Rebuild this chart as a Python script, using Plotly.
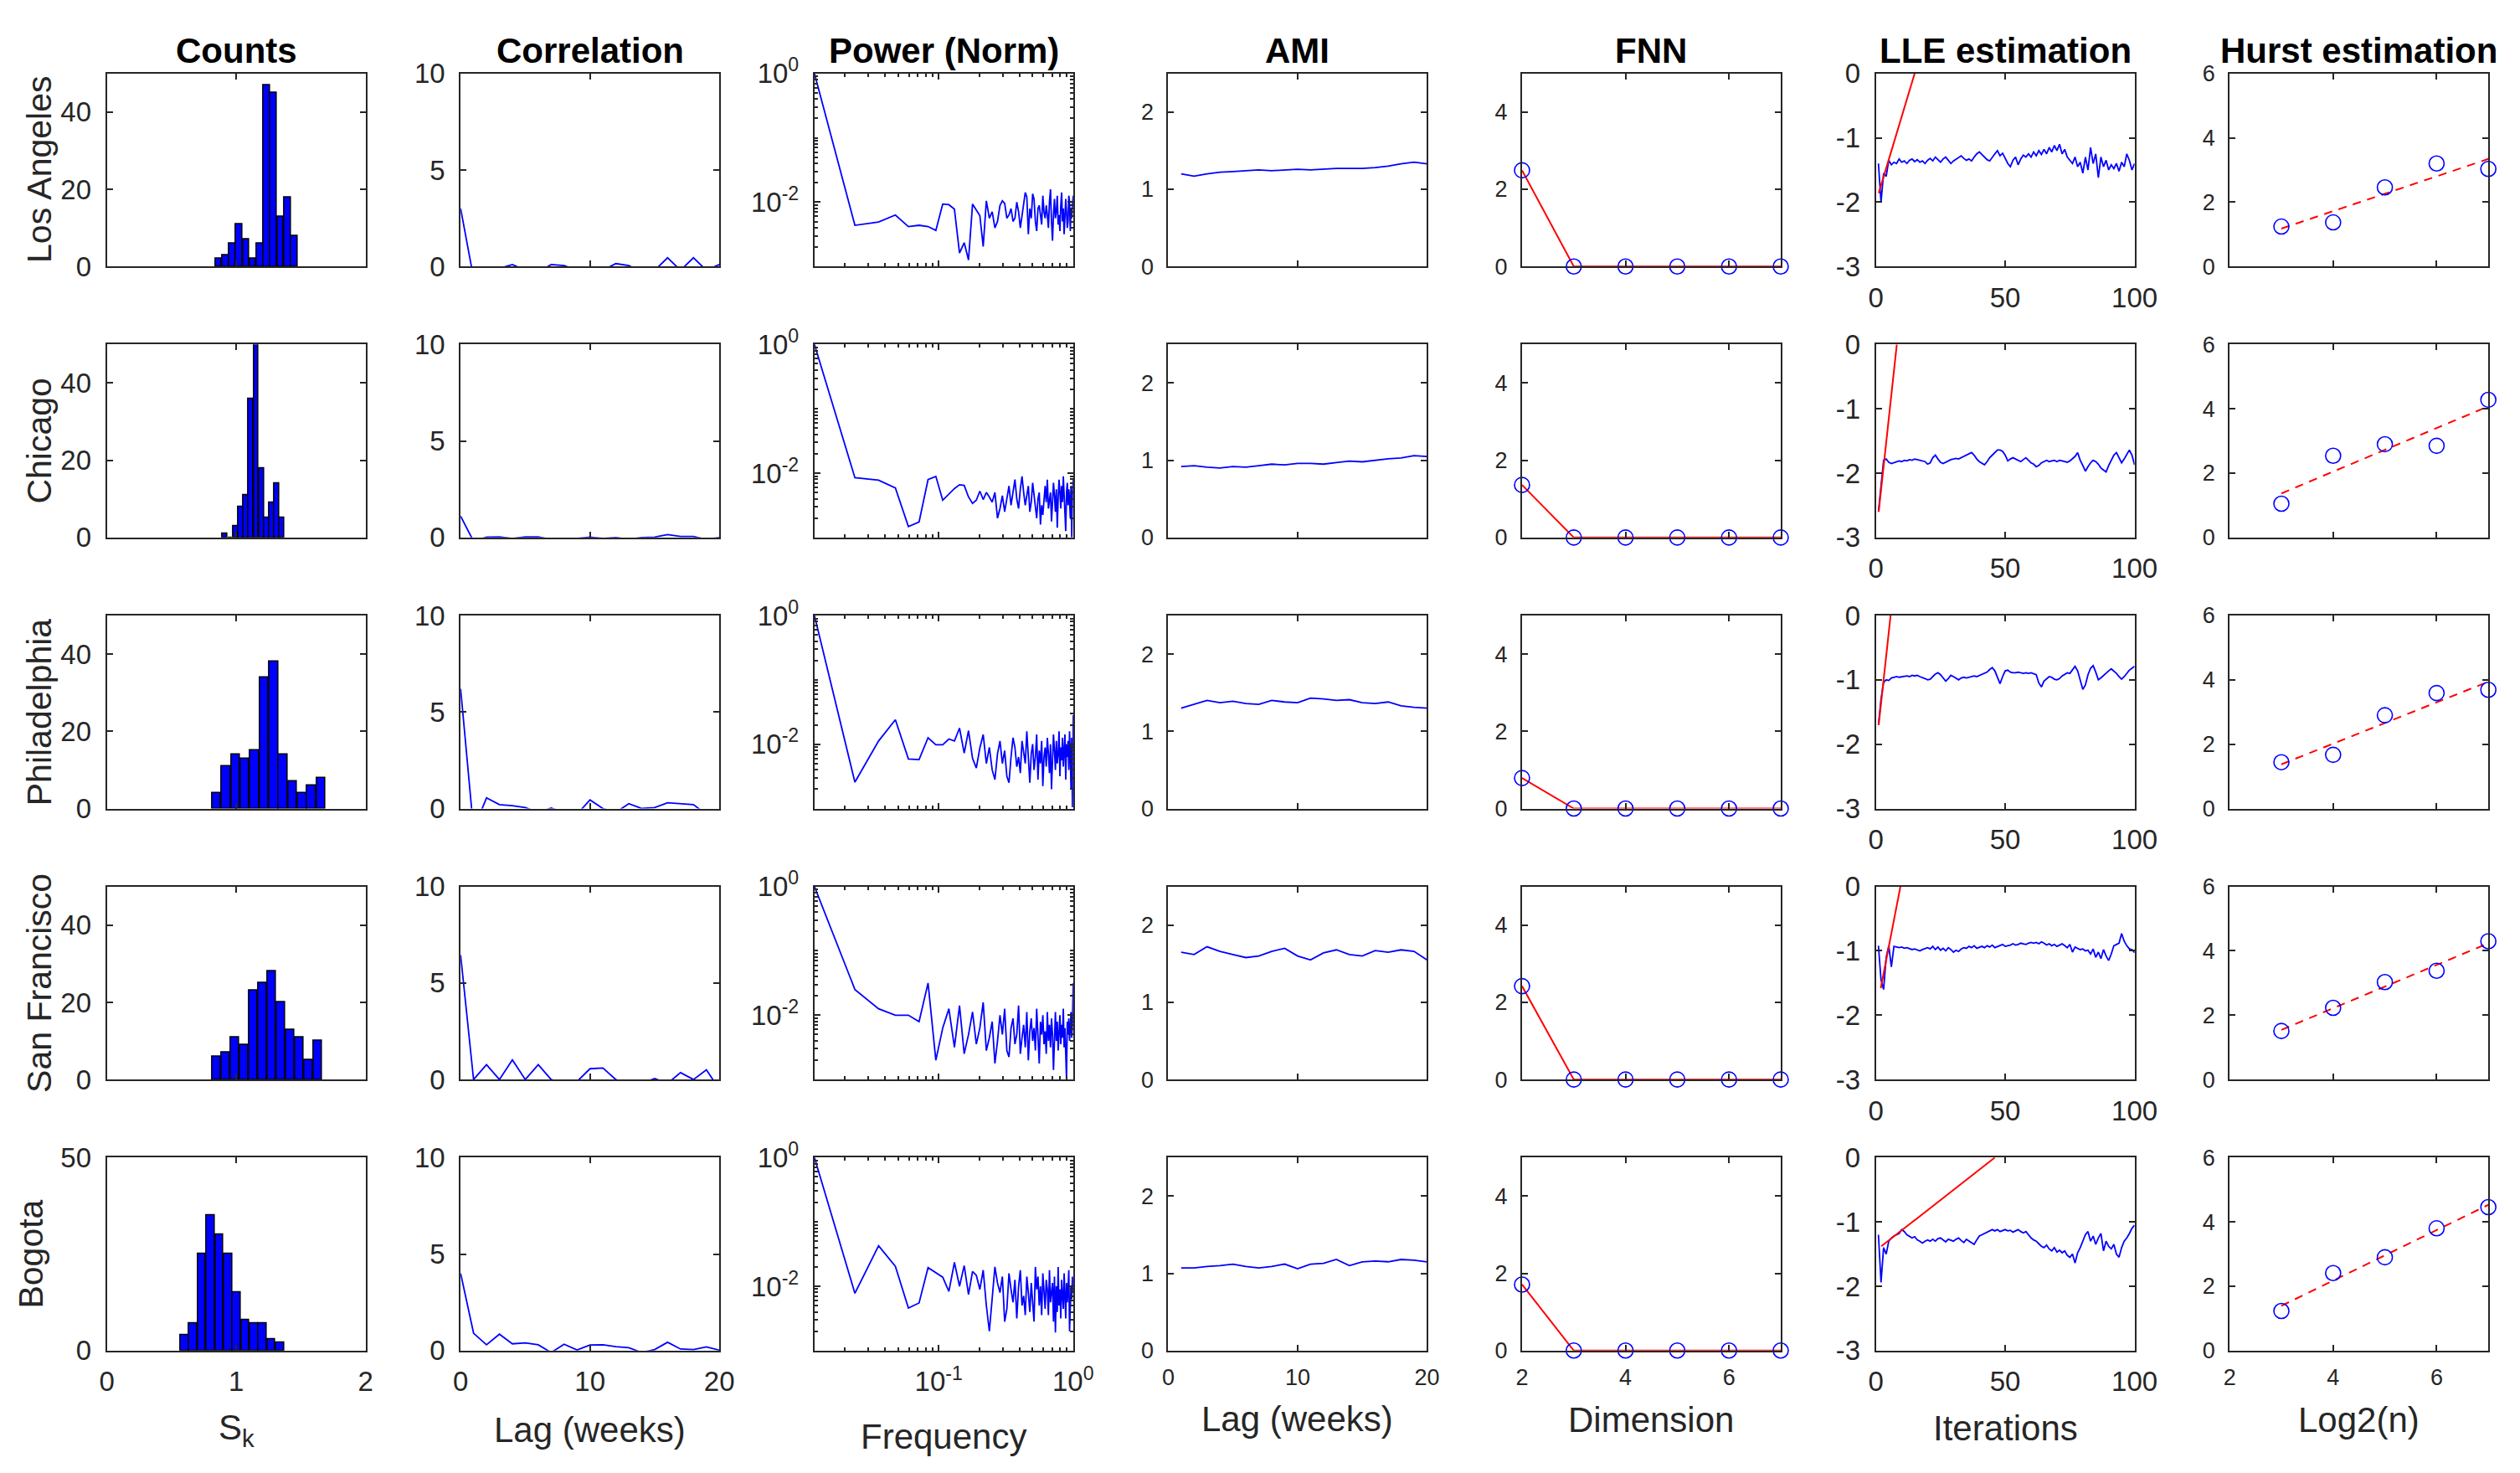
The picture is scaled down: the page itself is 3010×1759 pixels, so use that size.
import numpy as np
import plotly.graph_objects as go

W, H = 3010, 1759

cities = ["Los Angeles", "Chicago", "Philadelphia", "San Francisco", "Bogota"]
col_titles = ["Counts", "Correlation", "Power (Norm)", "AMI", "FNN", "LLE estimation", "Hurst estimation"]
x_labels = ["S<sub>k</sub>", "Lag (weeks)", "Frequency", "Lag (weeks)", "Dimension", "Iterations", "Log2(n)"]
lle_tick_vals = [-3, -2, -1, 0]
lle_tick_text = ["-3", "-2", "-1", "0"]

# ---------------- Counts (histogram of S_k) ----------------
hist_start = [0.837, 0.895, 0.812, 0.812, 0.568]
hist_width = [0.0533, 0.040, 0.0735, 0.0714, 0.067]
hist_LA = [2, 3, 6, 11, 7, 2, 6, 47, 45, 13, 18, 8]
hist_CH = [1, 0, 3, 8, 11, 36, 51, 18, 5, 9, 14, 5]
hist_PH = [4, 11, 14, 13, 15, 34, 38, 14, 7, 4, 6, 8]
hist_SF = [6, 7, 11, 9, 23, 25, 28, 20, 13, 11, 5, 10]
hist_BO = [4, 7, 25, 35, 30, 25, 15, 8, 7, 7, 3, 2]
hist_counts = [hist_LA, hist_CH, hist_PH, hist_SF, hist_BO]

# ---------------- Correlation (lags 0..20) ----------------
corr_lags = list(range(21))
corr_LA = [3.0, -0.6, -0.3, -0.1, 0.1, -0.2, -0.3, 0.1, 0.05, -0.2, -0.3, -0.2, 0.15, 0.05, -0.3, -0.2, 0.45, -0.2, 0.45, -0.2, 0.1]
corr_CH = [1.1, -0.2, 0.02, 0.03, -0.05, 0.03, 0.03, -0.1, -0.3, -0.05, 0.02, -0.05, 0.0, -0.1, 0.0, 0.02, 0.15, 0.05, 0.05, -0.1, 0.0]
corr_PH = [6.2, -1.1, 0.55, 0.2, 0.15, 0.05, -0.2, 0.02, -0.2, -0.3, 0.45, 0.0, -0.2, 0.25, 0.0, 0.05, 0.3, 0.25, 0.2, -0.3, -0.3]
corr_SF = [6.45, 0.0, 0.77, 0.0, 1.02, 0.0, 0.77, 0.0, -0.2, -0.1, 0.56, 0.6, 0.0, -0.3, -0.2, 0.05, -0.2, 0.36, 0.0, 0.5, -0.5]
corr_BO = [4.0, 0.9, 0.3, 0.85, 0.35, 0.4, 0.3, -0.1, 0.33, 0.03, 0.29, 0.3, 0.2, 0.15, -0.1, 0.05, 0.43, 0.08, 0.05, 0.19, 0.02]
corr_vals = [corr_LA, corr_CH, corr_PH, corr_SF, corr_BO]

# ---------------- Power spectrum (k/84, log10 of normalized power) ----------------
freq = [k / 84 for k in range(1, 85)]
plog_LA = [0, -2.36, -2.31, -2.20, -2.38, -2.36, -2.38, -2.44, -2.03, -2.04,
           -2.11, -2.79, -2.63, -2.90, -2.03, -2.13, -2.21, -2.69, -1.98, -2.25,
           -2.15, -2.40, -2.30, -2.05, -1.98, -2.02, -2.25, -2.20, -2.10, -2.30,
           -2.25, -2.00, -2.15, -2.40, -2.20, -2.05, -1.85, -1.92, -2.50, -2.10,
           -2.25, -1.87, -1.95, -2.30, -2.45, -2.10, -2.05, -2.20, -2.35, -1.90,
           -2.15, -2.25, -2.05, -2.20, -2.40, -2.00, -1.80, -2.30, -2.60, -2.20,
           -1.95, -2.25, -2.15, -1.90, -2.35, -2.20, -2.45, -2.05, -1.85, -2.30,
           -2.10, -2.50, -2.20, -1.95, -2.15, -2.40, -2.30, -1.90, -2.00, -2.45,
           -2.10, -2.25, -2.05, -1.90]
plog_CH = [0, -2.07, -2.11, -2.23, -2.83, -2.76, -2.10, -2.05, -2.42, -2.32,
           -2.24, -2.18, -2.19, -2.37, -2.47, -2.42, -2.28, -2.41, -2.30, -2.37,
           -2.45, -2.30, -2.70, -2.55, -2.35, -2.60, -2.40, -2.20, -2.50, -2.30,
           -2.10, -2.40, -2.55, -2.25, -2.05, -2.30, -2.50, -2.35, -2.20, -2.60,
           -2.45, -2.15, -2.35, -2.55, -2.70, -2.40, -2.30, -2.80, -2.50, -2.65,
           -2.35, -2.20, -2.45, -2.10, -2.55, -2.40, -2.30, -2.75, -2.50, -2.15,
           -2.35, -2.60, -2.25, -2.85, -2.40, -2.10, -2.30, -2.55, -2.20, -2.45,
           -2.05, -2.35, -2.60, -2.90, -2.30, -2.15, -2.50, -2.25, -2.40, -2.70,
           -2.20, -3.00, -2.35, -2.10]
plog_PH = [0, -2.59, -1.95, -1.62, -2.23, -2.24, -1.90, -2.01, -2.01, -1.92,
           -1.95, -1.75, -2.14, -1.79, -2.22, -2.37, -2.06, -1.85, -2.30, -2.05,
           -2.40, -2.55, -2.15, -1.95, -2.30, -2.10, -2.50, -2.60, -2.20, -1.90,
           -2.05, -2.35, -2.20, -2.45, -1.95, -2.10, -2.30, -1.80, -2.25, -2.60,
           -2.15, -2.00, -2.40, -2.20, -1.85, -2.55, -2.10, -2.30, -1.95, -2.65,
           -2.20, -2.05, -2.35, -1.90, -2.15, -2.45, -2.00, -2.70, -2.25, -1.85,
           -2.10, -2.40, -1.95, -2.30, -2.15, -1.80, -2.50, -2.05, -2.25, -1.90,
           -2.35, -2.10, -1.85, -2.55, -2.00, -2.20, -1.95, -2.40, -1.80, -2.15,
           -2.70, -1.90, -2.98, -1.55]
plog_SF = [0, -1.60, -1.90, -2.00, -2.00, -2.10, -1.50, -2.70, -2.20, -1.90,
           -2.50, -1.85, -2.60, -2.30, -1.95, -2.45, -2.20, -1.80, -2.55, -2.35,
           -2.10, -2.75, -2.40, -2.00, -2.30, -1.90, -2.55, -2.65, -2.20, -2.05,
           -2.45, -2.30, -1.85, -2.60, -2.35, -2.15, -2.50, -1.95, -2.70, -2.25,
           -2.05, -2.40, -2.20, -2.55, -1.90, -2.35, -2.75, -2.10, -2.30, -2.00,
           -2.45, -2.25, -2.60, -1.95, -2.40, -2.15, -2.50, -2.05, -2.30, -2.85,
           -2.20, -1.95, -2.40, -2.10, -2.55, -2.25, -2.00, -2.45, -2.15, -2.35,
           -1.90, -2.50, -2.20, -2.60, -3.00, -2.10, -2.30, -2.05, -2.40, -2.20,
           -1.95, -2.35, -2.15, -1.50]
plog_BO = [0, -2.11, -1.37, -1.69, -2.34, -2.26, -1.71, -1.79, -1.86, -2.08,
           -1.63, -2.00, -1.68, -2.13, -1.77, -1.83, -2.05, -1.75, -2.30, -2.70,
           -2.20, -1.70, -1.95, -2.10, -1.85, -2.55, -2.35, -1.80, -2.05, -2.25,
           -1.90, -2.50, -2.00, -1.75, -2.30, -2.15, -2.45, -1.85, -2.10, -2.40,
           -1.95, -2.20, -2.55, -1.70, -2.05, -1.85, -2.30, -2.00, -2.45, -1.80,
           -2.15, -2.35, -1.90, -2.05, -2.45, -1.75, -2.25, -2.10, -1.95, -2.55,
           -1.85, -2.72, -2.00, -2.40, -1.70, -2.30, -2.05, -2.50, -1.90, -2.15,
           -2.35, -1.80, -2.10, -2.50, -1.95, -2.25, -2.05, -1.75, -2.70, -2.40,
           -2.00, -2.20, -1.85, -2.10]
plog_vals = [plog_LA, plog_CH, plog_PH, plog_SF, plog_BO]

# ---------------- AMI (lags 1..20) ----------------
ami_lags = list(range(1, 21))
ami_LA = [1.20, 1.17, 1.20, 1.22, 1.23, 1.24, 1.25, 1.24, 1.25, 1.26, 1.25, 1.26, 1.27, 1.27, 1.27, 1.28, 1.30, 1.33, 1.35, 1.33]
ami_CH = [0.92, 0.93, 0.91, 0.90, 0.92, 0.91, 0.93, 0.95, 0.94, 0.96, 0.96, 0.95, 0.97, 0.99, 0.98, 1.00, 1.02, 1.03, 1.06, 1.05]
ami_PH = [1.30, 1.35, 1.40, 1.37, 1.39, 1.36, 1.35, 1.40, 1.38, 1.37, 1.43, 1.42, 1.40, 1.41, 1.37, 1.36, 1.38, 1.33, 1.31, 1.30]
ami_SF = [1.65, 1.62, 1.72, 1.66, 1.62, 1.58, 1.60, 1.66, 1.70, 1.60, 1.55, 1.64, 1.68, 1.62, 1.60, 1.67, 1.65, 1.68, 1.66, 1.55]
ami_BO = [1.07, 1.07, 1.09, 1.10, 1.12, 1.09, 1.07, 1.09, 1.12, 1.06, 1.12, 1.13, 1.18, 1.10, 1.15, 1.16, 1.15, 1.18, 1.17, 1.15]
ami_vals = [ami_LA, ami_CH, ami_PH, ami_SF, ami_BO]

# ---------------- FNN (dimension 2..7) ----------------
fnn_dims = [2, 3, 4, 5, 6, 7]
fnn_LA = [2.49, 0, 0, 0, 0, 0]
fnn_CH = [1.36, 0, 0, 0, 0, 0]
fnn_PH = [0.79, 0, 0, 0, 0, 0]
fnn_SF = [2.42, 0, 0, 0, 0, 0]
fnn_BO = [1.71, 0, 0, 0, 0, 0]
fnn_vals = [fnn_LA, fnn_CH, fnn_PH, fnn_SF, fnn_BO]

# ---------------- LLE (iterations 1..100) ----------------
lle_iter = list(range(1, 101))
lle_LA = [-1.40, -2.00, -1.55, -1.60, -1.35, -1.42, -1.38, -1.40, -1.33, -1.38,
          -1.36, -1.40, -1.35, -1.33, -1.37, -1.34, -1.38, -1.36, -1.40, -1.35,
          -1.32, -1.36, -1.30, -1.34, -1.38, -1.33, -1.30, -1.35, -1.40, -1.36,
          -1.33, -1.30, -1.28, -1.32, -1.35, -1.33, -1.36, -1.30, -1.25, -1.22,
          -1.26, -1.30, -1.34, -1.36, -1.30, -1.25, -1.20, -1.28, -1.24, -1.32,
          -1.40, -1.45, -1.35, -1.30, -1.42, -1.33, -1.27, -1.30, -1.25, -1.30,
          -1.22, -1.28, -1.20, -1.26, -1.18, -1.25, -1.15, -1.22, -1.12, -1.20,
          -1.10, -1.25, -1.18, -1.30, -1.35, -1.40, -1.30, -1.45, -1.38, -1.55,
          -1.30, -1.50, -1.15, -1.40, -1.25, -1.62, -1.30, -1.45, -1.35, -1.50,
          -1.42, -1.48, -1.40, -1.52, -1.38, -1.45, -1.25, -1.35, -1.50, -1.40]
lle_CH = [-2.60, -2.20, -1.80, -1.78, -1.83, -1.85, -1.84, -1.82, -1.81, -1.82,
          -1.80, -1.81, -1.79, -1.80, -1.78, -1.79, -1.80, -1.80, -1.82, -1.86,
          -1.84, -1.76, -1.72, -1.78, -1.83, -1.85, -1.83, -1.80, -1.79, -1.78,
          -1.77, -1.78, -1.76, -1.74, -1.72, -1.70, -1.68, -1.72, -1.78, -1.82,
          -1.84, -1.87, -1.82, -1.76, -1.72, -1.68, -1.64, -1.64, -1.66, -1.72,
          -1.81, -1.78, -1.76, -1.78, -1.80, -1.82, -1.79, -1.76, -1.80, -1.84,
          -1.86, -1.90, -1.88, -1.84, -1.82, -1.80, -1.82, -1.81, -1.80, -1.82,
          -1.80, -1.81, -1.82, -1.83, -1.81, -1.78, -1.74, -1.68, -1.80, -1.88,
          -1.97, -1.90, -1.84, -1.80, -1.82, -1.86, -1.92, -1.95, -1.98, -1.88,
          -1.80, -1.72, -1.68, -1.76, -1.84, -1.78, -1.70, -1.64, -1.72, -1.87]
lle_PH = [-1.70, -1.30, -1.04, -1.00, -1.01, -0.97, -0.96, -0.95, -0.96, -0.95,
          -0.95, -0.94, -0.95, -0.93, -0.94, -0.93, -0.95, -0.96, -0.98, -1.00,
          -0.99, -0.95, -0.91, -0.89, -0.92, -0.97, -1.02, -0.98, -0.93, -0.95,
          -0.98, -1.00, -0.97, -0.96, -0.97, -0.96, -0.95, -0.94, -0.95, -0.93,
          -0.92, -0.90, -0.88, -0.84, -0.81, -0.86, -0.96, -1.06, -0.95, -0.86,
          -0.85, -0.88, -0.89, -0.89, -0.88, -0.89, -0.90, -0.89, -0.90, -0.89,
          -0.90, -0.92, -1.05, -1.11, -1.02, -0.98, -0.95, -0.96, -0.99, -1.00,
          -0.98, -0.94, -0.91, -0.89, -0.90, -0.85, -0.79, -0.86, -1.00, -1.15,
          -1.08, -0.92, -0.82, -0.78, -0.88, -1.00, -0.97, -0.93, -0.90, -0.86,
          -0.83, -0.86, -0.90, -0.95, -0.99, -0.95, -0.90, -0.85, -0.82, -0.79]
lle_SF = [-0.92, -1.45, -1.60, -1.10, -0.92, -1.25, -0.93, -0.94, -0.95, -0.94,
          -0.96, -0.95, -0.97, -0.98, -0.97, -0.99, -1.00, -0.98, -0.96, -0.95,
          -0.97, -0.93, -0.98, -0.94, -0.99, -0.96, -1.00, -0.95, -0.98, -1.02,
          -0.99, -1.01, -0.97, -0.95, -0.96, -0.93, -0.95, -0.92, -0.96, -0.94,
          -0.93, -0.95, -0.92, -0.94, -0.91, -0.95, -0.93, -0.92, -0.90, -0.93,
          -0.92, -0.91, -0.89, -0.91, -0.90, -0.88, -0.89, -0.90, -0.88, -0.87,
          -0.88, -0.87, -0.89, -0.86, -0.88, -0.91, -0.89, -0.92, -0.90, -0.93,
          -0.91, -0.89, -0.92, -0.95, -0.90, -1.02, -0.94, -0.96, -0.98, -0.97,
          -1.00, -0.99, -1.05, -0.97, -1.10, -1.02, -1.12, -0.98, -1.08, -1.15,
          -1.05, -0.92, -0.90, -0.88, -0.73, -0.85, -0.92, -0.97, -0.98, -1.03]
lle_BO = [-1.20, -1.94, -1.40, -1.50, -1.30, -1.25, -1.22, -1.20, -1.18, -1.12,
          -1.15, -1.20, -1.22, -1.25, -1.23, -1.28, -1.30, -1.33, -1.30, -1.28,
          -1.30, -1.27, -1.30, -1.26, -1.25, -1.28, -1.31, -1.27, -1.29, -1.30,
          -1.27, -1.25, -1.29, -1.32, -1.27, -1.30, -1.33, -1.35, -1.28, -1.22,
          -1.20, -1.18, -1.15, -1.13, -1.12, -1.14, -1.12, -1.15, -1.13, -1.12,
          -1.14, -1.13, -1.16, -1.14, -1.12, -1.15, -1.17, -1.15, -1.20, -1.25,
          -1.28, -1.30, -1.34, -1.38, -1.40, -1.36, -1.42, -1.45, -1.40, -1.47,
          -1.44, -1.48, -1.45, -1.52, -1.55, -1.50, -1.64, -1.48, -1.40, -1.30,
          -1.20, -1.15, -1.30, -1.22, -1.35, -1.25, -1.18, -1.45, -1.30, -1.38,
          -1.42, -1.35, -1.50, -1.55, -1.40, -1.30, -1.25, -1.18, -1.10, -1.05]
lle_vals = [lle_LA, lle_CH, lle_PH, lle_SF, lle_BO]
# fitted slope lines (start, end) for the LLE estimate
lle_fit_x = [[1.1, 15.0], [1.1, 8.1], [1.1, 5.7], [1.9, 9.5], [2.1, 46.0]]
lle_fit_y = [[-1.86, 0.0], [-2.60, 0.0], [-1.70, 0.0], [-1.58, 0.0], [-1.38, 0.0]]

# ---------------- Hurst (log2 n = 3..7) ----------------
hurst_x = [3, 4, 5, 6, 7]
hurst_LA = [1.24, 1.37, 2.46, 3.20, 3.03]
hurst_CH = [1.05, 2.54, 2.90, 2.85, 4.28]
hurst_PH = [1.44, 1.67, 2.90, 3.59, 3.69]
hurst_SF = [1.51, 2.23, 3.03, 3.38, 4.30]
hurst_BO = [1.23, 2.41, 2.90, 3.80, 4.46]
hurst_vals = [hurst_LA, hurst_CH, hurst_PH, hurst_SF, hurst_BO]

for a in plog_vals:
    assert len(a) == 84
for a in lle_vals:
    assert len(a) == 100

# ---------------- layout geometry (pixels) ----------------
OFF = 8  # page body margin compensation
COL_LEFT0, COL_PITCH, COL_W = 127.6 - OFF, 422.6, 309.0
ROW_TOP0, ROW_PITCH, ROW_H = 87.7 - OFF, 323.65, 230.5

BLUE = "#0000FF"
RED = "#FF0000"
AX = "#262626"
FONT = "Liberation Sans, Arial, Helvetica, sans-serif"
BIG, SMALL = 33, 27
tick_size = [BIG, BIG, BIG, SMALL, SMALL, BIG, SMALL]

fig = go.Figure()
layout = {}


def ax_id(r, c):
    return r * 7 + c + 1


for r in range(5):
    for c in range(7):
        i = ax_id(r, c)
        xa = "x" if i == 1 else f"x{i}"
        ya = "y" if i == 1 else f"y{i}"
        L = COL_LEFT0 + c * COL_PITCH
        T = ROW_TOP0 + r * ROW_PITCH
        xdom = [L / W, (L + COL_W) / W]
        ydom = [1 - (T + ROW_H) / H, 1 - T / H]
        common = dict(showline=True, mirror="ticks", linecolor=AX, linewidth=2,
                      ticks="inside", ticklen=7, tickwidth=1.5, tickcolor=AX,
                      showgrid=False, zeroline=False, automargin=False,
                      tickfont=dict(family=FONT, size=tick_size[c], color=AX))
        xax = dict(common, domain=xdom, anchor=ya, ticklabelstandoff=7)
        yax = dict(common, domain=ydom, anchor=xa, ticklabelstandoff=10)
        last = (r == 4)
        if c == 0:
            xax.update(range=[0, 2], tickvals=[0, 1, 2], showticklabels=last)
            yax.update(range=[0, 50], tickvals=[0, 50] if last else [0, 20, 40])
        elif c == 1:
            xax.update(range=[0, 20], tickvals=[0, 10, 20], showticklabels=last)
            yax.update(range=[0, 10], tickvals=[0, 5, 10])
        elif c == 2:
            xax.update(type="log", range=[np.log10(freq[0]), 0], tickvals=[0.1, 1],
                       ticktext=["10<sup>-1</sup>", "10<sup>0</sup>"], showticklabels=last,
                       minor=dict(ticks="inside", ticklen=4, tickcolor=AX, dtick="D1"))
            yax.update(type="log", range=[-3, 0], tickvals=[0.01, 1],
                       ticktext=["10<sup>-2</sup>", "10<sup>0</sup>"],
                       minor=dict(ticks="inside", ticklen=4, tickcolor=AX, dtick="D1"))
        elif c == 3:
            xax.update(range=[0, 20], tickvals=[0, 10, 20], showticklabels=last)
            yax.update(range=[0, 2.5], tickvals=[0, 1, 2])
        elif c == 4:
            xax.update(range=[2, 7], tickvals=[2, 4, 6], showticklabels=last)
            yax.update(range=[0, 5], tickvals=[0, 2, 4])
        elif c == 5:
            xax.update(range=[0, 100], tickvals=[0, 50, 100], showticklabels=True)
            yax.update(range=[-3, 0], tickvals=lle_tick_vals, ticktext=lle_tick_text)
        elif c == 6:
            xax.update(range=[2, 7], tickvals=[2, 4, 6], showticklabels=last)
            yax.update(range=[0, 6], tickvals=[0, 2, 4, 6])
        layout["xaxis" if i == 1 else f"xaxis{i}"] = xax
        layout["yaxis" if i == 1 else f"yaxis{i}"] = yax

        kw = dict(xaxis=xa, yaxis=ya, showlegend=False, hoverinfo="skip")
        if c == 0:
            centers = [hist_start[r] + (k + 0.5) * hist_width[r] for k in range(len(hist_counts[r]))]
            fig.add_trace(go.Bar(x=centers, y=hist_counts[r], width=hist_width[r] * 0.93,
                                 marker=dict(color=BLUE, line=dict(color="black", width=1.5)), **kw))
        elif c == 1:
            fig.add_trace(go.Scatter(x=corr_lags, y=corr_vals[r], mode="lines",
                                     line=dict(color=BLUE, width=1.8), **kw))
        elif c == 2:
            fig.add_trace(go.Scatter(x=freq, y=[10 ** v for v in plog_vals[r]], mode="lines",
                                     line=dict(color=BLUE, width=1.8), **kw))
        elif c == 3:
            fig.add_trace(go.Scatter(x=ami_lags, y=ami_vals[r], mode="lines",
                                     line=dict(color=BLUE, width=1.8), **kw))
        elif c == 4:
            fig.add_trace(go.Scatter(x=fnn_dims, y=fnn_vals[r], mode="lines",
                                     line=dict(color=RED, width=2), **kw))
            fig.add_trace(go.Scatter(x=fnn_dims, y=fnn_vals[r], mode="markers", cliponaxis=False,
                                     marker=dict(symbol="circle-open", size=18, color=BLUE,
                                                 line=dict(width=1.6, color=BLUE)), **kw))
        elif c == 5:
            fig.add_trace(go.Scatter(x=lle_iter, y=lle_vals[r], mode="lines",
                                     line=dict(color=BLUE, width=1.8), **kw))
            fig.add_trace(go.Scatter(x=lle_fit_x[r], y=lle_fit_y[r], mode="lines",
                                     line=dict(color=RED, width=2), **kw))
        elif c == 6:
            slope, icpt = np.polyfit(hurst_x, hurst_vals[r], 1)
            fx = [hurst_x[0], hurst_x[-1]]
            fig.add_trace(go.Scatter(x=fx, y=[slope * v + icpt for v in fx], mode="lines",
                                     line=dict(color=RED, width=2, dash="10px,8px"), **kw))
            fig.add_trace(go.Scatter(x=hurst_x, y=hurst_vals[r], mode="markers", cliponaxis=False,
                                     marker=dict(symbol="circle-open", size=18, color=BLUE,
                                                 line=dict(width=1.6, color=BLUE)), **kw))

annotations = []
# column titles
for c, t in enumerate(col_titles):
    cx = COL_LEFT0 + c * COL_PITCH + COL_W / 2
    annotations.append(dict(text=f"<b>{t}</b>", x=cx / W, y=1 - (60 - OFF) / H, xref="paper", yref="paper",
                            xanchor="center", yanchor="middle", showarrow=False,
                            font=dict(family=FONT, size=42, color="black")))
# row labels
row_label_x = [47, 47, 47, 47, 37]
for r, name in enumerate(cities):
    cy = ROW_TOP0 + r * ROW_PITCH + ROW_H / 2
    annotations.append(dict(text=name, x=(row_label_x[r] - OFF) / W, y=1 - cy / H, xref="paper", yref="paper",
                            xanchor="center", yanchor="middle", textangle=-90, showarrow=False,
                            font=dict(family=FONT, size=41, color=AX)))
# x-axis labels under the bottom row
label_y = [1707, 1707, 1715, 1694, 1695, 1705, 1695]
for c, t in enumerate(x_labels):
    cx = COL_LEFT0 + c * COL_PITCH + COL_W / 2
    annotations.append(dict(text=t, x=cx / W, y=1 - (label_y[c] - OFF) / H, xref="paper", yref="paper",
                            xanchor="center", yanchor="middle", showarrow=False,
                            font=dict(family=FONT, size=42, color=AX)))

fig.update_layout(**layout)
fig.update_layout(width=W, height=H, margin=dict(l=0, r=0, t=0, b=0),
                  paper_bgcolor="white", plot_bgcolor="white",
                  annotations=annotations, bargap=0)

fig.write_html("out.html")
